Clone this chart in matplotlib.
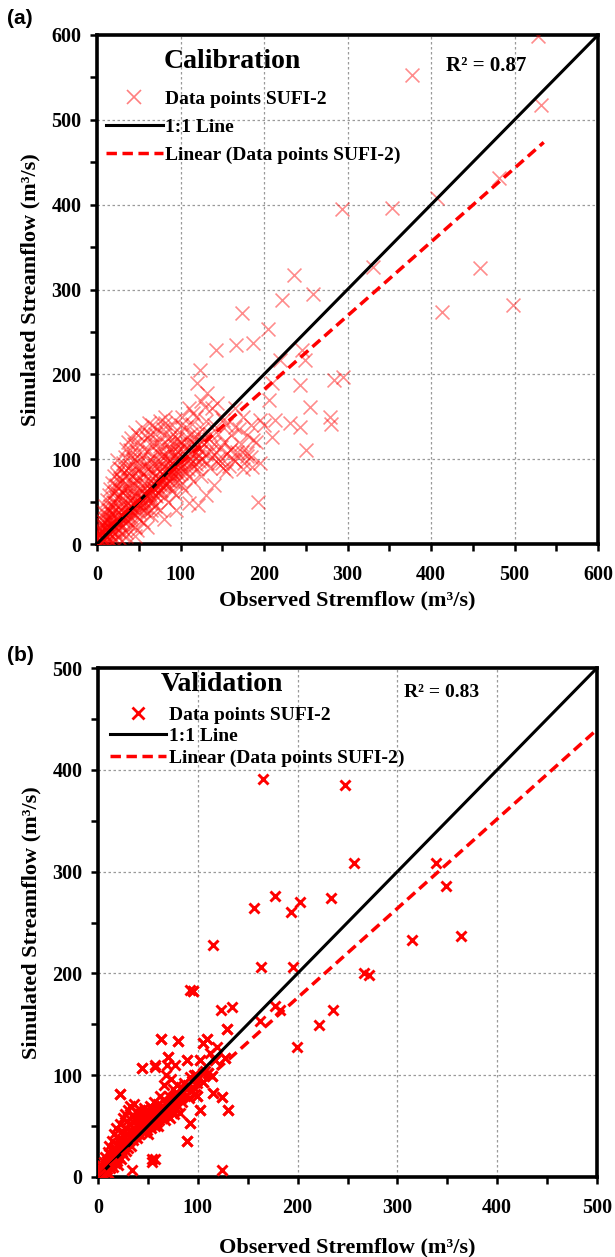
import matplotlib
matplotlib.use("Agg")
import matplotlib.pyplot as plt
from matplotlib.lines import Line2D
from matplotlib.ticker import MultipleLocator

plt.rcParams['font.family'] = ['Liberation Serif', 'DejaVu Serif']
plt.rcParams['font.weight'] = 'bold'

# ---- calibration data (observed, simulated), m3/s ----
cal_obs = [
    1, 2, 2, 3, 3, 4, 4, 5, 5, 6, 6, 7, 7, 8, 8, 9, 9, 10, 10, 10,
    11, 11, 12, 12, 13, 13, 14, 14, 15, 15, 16, 16, 17, 17, 18, 18, 19, 19, 20, 20, 20,
    21, 21, 22, 22, 23, 23, 24, 24, 25, 25, 26, 26, 27, 27, 28, 28, 29, 29, 30, 30, 30,
    31, 31, 32, 32, 33, 33, 34, 34, 35, 35, 36, 36, 37, 37, 38, 38, 39, 39, 40, 40, 40, 40,
    41, 41, 42, 42, 43, 43, 44, 44, 45, 45, 46, 46, 47, 47, 48, 48, 49, 49, 50, 50, 50,
    51, 51, 52, 52, 53, 53, 54, 54, 55, 55, 56, 56, 57, 57, 58, 58, 59, 59, 60, 60, 60,
    61, 61, 62, 62, 63, 63, 64, 64, 65, 65, 66, 66, 67, 67, 68, 68, 69, 69, 70, 70, 70,
    71, 71, 72, 72, 73, 73, 74, 74, 75, 75, 76, 76, 77, 77, 78, 78, 79, 79, 80, 80,
    81, 81, 82, 82, 83, 83, 84, 84, 85, 85, 86, 86, 87, 87, 88, 88, 89, 89, 90, 90,
    91, 91, 92, 92, 93, 93, 94, 94, 95, 95, 96, 96, 97, 97, 98, 98, 99, 99, 100, 100, 100,
    102, 103, 104, 105, 106, 107, 108, 109, 110, 111, 112, 113, 114, 115, 116, 117, 118,
    119, 120, 121, 122, 123, 125, 126, 128, 130, 132, 134, 136, 138, 140, 142, 145, 148,
    150, 152, 155, 158, 160, 163, 168, 172, 176, 180,
    20, 30, 40, 50, 60, 70, 80, 90, 100, 110, 120, 15, 48, 35, 65,
    2, 3, 4, 5, 6, 7, 8, 9, 10, 11, 12, 13, 14, 15, 16, 17, 18, 19, 20, 21,
    22, 23, 24, 25, 26, 27, 28, 29, 30, 31, 32, 33, 34, 35, 36, 37, 38, 39, 40, 41,
    42, 43, 44, 45, 46, 47, 48, 49, 50, 52, 54, 55, 56, 58, 60, 62, 63, 65, 66, 68,
    70, 72, 74, 75, 76, 78, 80, 82, 84, 86, 88, 90, 92, 94, 96, 98, 100, 102, 104, 106,
    108, 110, 112, 114, 116, 118, 120, 122, 124, 126, 128, 130, 135, 138, 140, 145, 150,
    155, 160, 165, 170, 175, 180, 185, 190, 200,
    25, 35, 45, 55, 65, 75, 85, 95, 105, 115, 125, 135, 145, 155, 165, 175, 185, 195,
    140, 130, 110, 95, 80, 60, 45, 30, 18, 12,
    528, 532, 377, 481, 407, 353, 293, 331, 459, 413, 498, 295, 236, 259, 222, 174,
    205, 187, 166, 143, 245, 219, 249, 123, 284, 243, 210, 206, 255, 279, 280, 231,
    243, 213, 250, 210, 195, 187, 180, 186, 193, 121, 151, 165, 159, 174, 132, 120,
    129, 144, 115, 151,
]
cal_sim = [
    3, 1, 6, 2, 9, 4, 12, 3, 15, 7, 18, 5, 22, 9, 26, 6, 30, 12, 20, 35,
    8, 16, 28, 10, 14, 40, 20, 6, 18, 32, 12, 45, 24, 15, 36, 10, 22, 50, 18, 28, 60,
    14, 34, 25, 42, 20, 70, 30, 99, 16, 38, 26, 55, 22, 45, 32, 78, 24, 40, 20, 34, 62,
    28, 50, 36, 85, 25, 44, 30, 58, 40, 68, 28, 48, 34, 90, 42, 60, 30, 52, 38, 46, 111, 75,
    32, 55, 44, 80, 36, 62, 48, 100, 40, 56, 34, 70, 50, 88, 42, 60, 46, 76, 38, 54, 95,
    48, 66, 42, 118, 56, 84, 46, 62, 52, 105, 40, 72, 58, 92, 50, 66, 44, 80, 56, 125, 70,
    52, 88, 60, 143, 48, 76, 58, 100, 54, 68, 62, 115, 50, 84, 66, 96, 58, 74, 64, 130, 80,
    56, 90, 68, 108, 60, 78, 72, 120, 62, 86, 70, 98, 64, 110, 74, 82, 68, 136, 76, 92,
    70, 143, 80, 104, 72, 88, 84, 118, 76, 96, 68, 125, 82, 100, 74, 90, 86, 112, 78, 96,
    84, 130, 88, 104, 80, 116, 92, 72, 86, 100, 94, 124, 82, 108, 96, 76, 90, 118, 98, 84, 140,
    92, 110, 100, 86, 120, 96, 104, 88, 112, 100, 96, 130, 106, 92, 118, 100, 108,
    94, 116, 104, 98, 122, 110, 100, 118, 106, 96, 124, 110, 102, 118, 108, 100, 114,
    96, 120, 106, 92, 112, 100, 108, 118, 96, 104,
    5, 12, 22, 30, 36, 45, 55, 62, 70, 80, 88, 3, 17, 10, 40,
    12, 18, 0, 22, 28, 14, 38, 20, 45, 25, 52, 30, 58, 40, 65, 35, 72, 44, 80, 48,
    62, 54, 82, 66, 90, 72, 58, 88, 76, 95, 64, 102, 80, 112, 66, 120, 84, 105, 92, 125,
    70, 98, 118, 84, 132, 76, 108, 128, 88, 100, 138, 82, 112, 128, 95, 110, 130, 88, 140, 120,
    100, 135, 92, 145, 115, 104, 128, 150, 100, 112, 138, 108, 122, 146, 110, 132, 120, 150, 116, 138,
    126, 160, 118, 142, 124, 150, 130, 112, 168, 136, 124, 145, 130, 160, 140, 130, 150,
    140, 128, 160, 135, 150, 128, 140, 120, 140,
    8, 14, 20, 26, 34, 40, 50, 58, 64, 74, 80, 90, 96, 86, 98, 88, 102, 96,
    70, 58, 48, 40, 30, 20, 10, 4, 2, 1,
    599, 517, 553, 432, 408, 396, 395, 327, 325, 273, 282, 197, 317, 295, 288, 272,
    253, 237, 235, 229, 229, 217, 217, 205, 193, 187, 190, 170, 162, 150, 141, 143,
    138, 146, 111, 126, 146, 123, 107, 91, 50, 46, 90, 138, 111, 108, 178, 190,
    162, 166, 154, 146,
]

# ---- validation data (observed, simulated), m3/s ----
val_obs = [
    1, 1, 2, 2, 3, 3, 4, 4, 5, 5, 6, 6, 7, 7, 8, 8, 9, 9, 10, 10, 10,
    11, 11, 12, 12, 13, 13, 14, 14, 15, 15, 16, 16, 17, 17, 18, 18, 19, 19, 20, 20, 22,
    21, 21, 22, 22, 23, 23, 24, 24, 25, 25, 26, 26, 27, 27, 28, 28, 29, 29, 30, 30, 30,
    31, 31, 32, 32, 33, 33, 34, 34, 35, 35, 36, 36, 37, 37, 38, 38, 39, 39, 40, 40, 40,
    41, 41, 42, 42, 43, 43, 44, 44, 45, 45, 46, 46, 47, 47, 48, 48, 49, 49, 50, 50, 50,
    51, 51, 52, 52, 53, 53, 54, 54, 55, 55, 56, 56, 57, 57, 58, 58, 59, 59, 60, 60, 60,
    61, 61, 62, 62, 63, 63, 64, 64, 65, 65, 66, 66, 67, 67, 68, 68, 69, 69, 70, 70, 70,
    71, 71, 72, 72, 73, 73, 74, 74, 75, 75, 76, 76, 77, 77, 78, 78, 79, 79, 80, 80, 80,
    82, 83, 84, 85, 86, 87, 88, 89, 89, 90, 91, 92, 92, 93, 94, 95, 95, 96, 97, 98, 99, 99, 100,
    102, 102, 105, 105, 107, 109, 110, 112, 114, 115, 117, 119, 124, 124, 127, 129, 130, 105,
    165, 247, 177, 156, 193, 202, 233, 115, 163, 195, 95, 92, 123, 134, 162, 177, 182,
    129, 235, 221, 199, 63, 80, 109, 105, 70, 44, 57, 69, 89, 102, 117, 127, 22, 124,
    130, 89, 57, 54, 34, 114, 105, 99, 102, 92, 82, 115, 110, 98,
    257, 339, 349, 315, 364, 267, 272,
]
val_sim = [
    2, 5, 1, 8, 4, 12, 2, 7, 10, 3, 15, 6, 9, 20, 5, 12, 16, 8, 11, 25, 4,
    14, 30, 9, 18, 22, 12, 35, 16, 10, 25, 19, 42, 14, 28, 21, 48, 16, 32, 24, 12, 82,
    20, 38, 27, 52, 18, 33, 25, 45, 30, 58, 22, 40, 34, 62, 26, 48, 36, 55, 28, 42, 66,
    35, 52, 40, 70, 30, 46, 44, 60, 36, 54, 48, 72, 40, 58, 46, 65, 38, 52, 50, 62, 44,
    42, 58, 52, 66, 46, 60, 54, 107, 48, 62, 56, 68, 44, 58, 52, 64, 46, 60, 55, 66, 42,
    50, 62, 58, 70, 48, 60, 56, 18, 52, 64, 60, 74, 50, 108, 58, 68, 54, 64, 62, 72, 50,
    56, 66, 60, 80, 64, 136, 58, 70, 66, 76, 62, 90, 68, 56, 72, 100, 64, 74, 70, 118, 60,
    66, 80, 74, 58, 70, 96, 76, 66, 72, 86, 78, 62, 74, 110, 80, 68, 76, 90, 82, 134, 70,
    78, 88, 74, 84, 92, 80, 86, 115, 35, 90, 78, 98, 53, 84, 94, 183, 88, 100, 82, 100, 80, 92, 96,
    66, 115, 132, 93, 104, 136, 102, 122, 99, 83, 115, 128, 79, 7, 117, 145, 66, 102,
    391, 385, 276, 264, 260, 270, 274, 228, 206, 206, 183, 184, 164, 167, 153, 168, 164,
    145, 164, 149, 128, 136, 134, 136, 132, 118, 107, 110, 110, 115, 115, 115, 117, 82, 79,
    66, 35, 18, 15, 7, 99, 93, 80, 66, 53, 63, 83, 102, 100,
    308, 308, 286, 233, 237, 200, 198,
]

# fitted trend lines (slope, intercept, x-range end)
cal_fit = (0.87, 8.0, 535)
val_fit = (0.878, 0.5, 497)
cal_r2 = "R² = 0.87"
val_r2 = "R² = 0.83"
legend_labels = ['Data points SUFI-2', '1:1 Line', 'Linear (Data points SUFI-2)']

fig = plt.figure(figsize=(6.15, 12.57), dpi=100)
ax_a = fig.add_axes([97 / 615, 1 - 544 / 1257, 501 / 615, 509 / 1257])
ax_b = fig.add_axes([98 / 615, 1 - 1177 / 1257, 499 / 615, 509 / 1257])


def style_axes(ax, vmax):
    ax.set_xlim(0, vmax)
    ax.set_ylim(0, vmax)
    ax.xaxis.set_major_locator(MultipleLocator(100))
    ax.yaxis.set_major_locator(MultipleLocator(100))
    ax.xaxis.set_minor_locator(MultipleLocator(50))
    ax.yaxis.set_minor_locator(MultipleLocator(50))
    ax.tick_params(which='both', direction='out', length=5, width=1.8, labelsize=14.5)
    ax.tick_params(axis='x', pad=10)
    ax.tick_params(axis='y', pad=6)
    ax.grid(True, which='major', linestyle=(0, (2, 2)), color='#9a9a9a', lw=0.9)
    ax.set_axisbelow(True)
    for sp in ax.spines.values():
        sp.set_linewidth(2.6)
    for lab in ax.get_xticklabels() + ax.get_yticklabels():
        lab.set_fontweight('bold')
    ax.set_xlabel('Observed Stremflow (m³/s)', fontsize=16, fontweight='bold')
    ax.set_ylabel('Simulated Streamflow (m³/s)', fontsize=16, fontweight='bold')


# ---- (a) calibration ----
ax = ax_a
style_axes(ax, 600)
ax.scatter(cal_obs, cal_sim, marker='x', s=100, color='red', alpha=0.45, lw=1.2, zorder=3)
ax.plot([0, 600], [0, 600], color='black', lw=2.2, zorder=4)
s, b, xe = cal_fit
ax.plot([0, xe], [b, s * xe + b], color='red', lw=2.5, ls=(0, (3, 1.6)), zorder=5)
ax.xaxis.labelpad = 4
ax.yaxis.labelpad = 8
ax.text(0.27, 0.947, 'Calibration', transform=ax.transAxes, ha='center', va='center',
        fontsize=20, fontweight='bold')
ax.text(0.776, 0.939, cal_r2, transform=ax.transAxes, ha='center', va='center',
        fontsize=15, fontweight='bold')
handles = [
    Line2D([], [], marker='x', ls='none', color='red', alpha=0.5, markersize=10, mew=1.2),
    Line2D([], [], color='black', lw=2.2),
    Line2D([], [], color='red', lw=2.5, ls=(0, (3, 1.6))),
]
ax.legend(handles, legend_labels,
          loc='upper left', bbox_to_anchor=(-0.005, 0.915), frameon=False,
          prop={'size': 14, 'weight': 'bold'}, handlelength=2.9, handletextpad=0.15,
          labelspacing=0.55, borderaxespad=0.2)

# ---- (b) validation ----
ax = ax_b
style_axes(ax, 500)
ax.scatter(val_obs, val_sim, marker='x', s=52, color='red', lw=2.1, zorder=3)
ax.plot([0, 500], [0, 500], color='black', lw=2.2, zorder=4)
s, b, xe = val_fit
ax.plot([0, xe], [b, s * xe + b], color='red', lw=2.5, ls=(0, (3, 1.6)), zorder=5)
ax.xaxis.labelpad = 14
ax.yaxis.labelpad = 8
ax.text(0.249, 0.968, 'Validation', transform=ax.transAxes, ha='center', va='center',
        fontsize=20, fontweight='bold')
ax.text(0.689, 0.951, val_r2, transform=ax.transAxes, ha='center', va='center',
        fontsize=14, fontweight='bold')
handles = [
    Line2D([], [], marker='x', ls='none', color='red', markersize=8, mew=2.0),
    Line2D([], [], color='black', lw=2.2),
    Line2D([], [], color='red', lw=2.5, ls=(0, (3, 1.6))),
]
ax.legend(handles, legend_labels,
          loc='upper left', bbox_to_anchor=(0.0, 0.948), frameon=False,
          prop={'size': 14, 'weight': 'bold'}, handlelength=2.9, handletextpad=0.15,
          labelspacing=0.2, borderaxespad=0.2)

fig.text(7 / 615, 1 - 18 / 1257, '(a)', fontsize=15, fontweight='bold', va='center',
         family='Liberation Sans')
fig.text(7 / 615, 1 - 655 / 1257, '(b)', fontsize=15, fontweight='bold', va='center',
         family='Liberation Sans')

fig.savefig('out.png', dpi=100)
